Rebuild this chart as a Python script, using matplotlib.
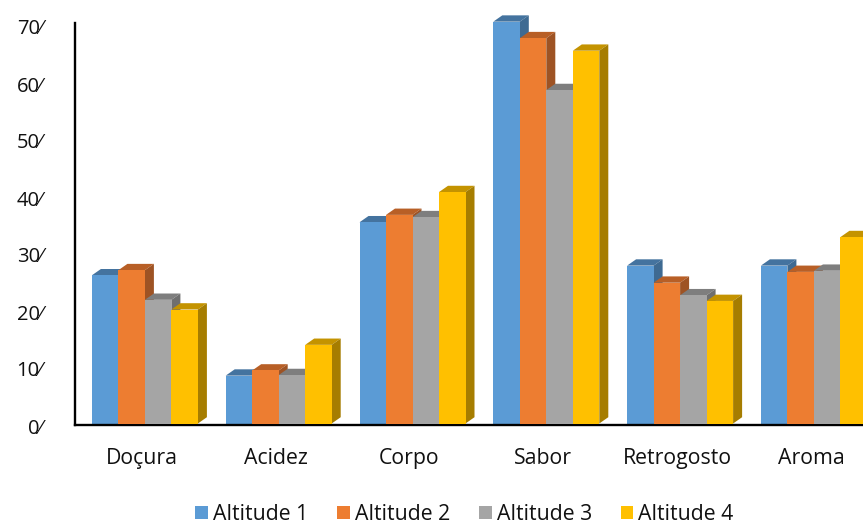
import matplotlib
matplotlib.use("Agg")
import matplotlib.pyplot as plt
from matplotlib.patches import Polygon, Patch
from matplotlib.transforms import ScaledTranslation

plt.rcParams['font.family'] = ['Open Sans', 'DejaVu Sans']

categories = ['Doçura', 'Acidez', 'Corpo', 'Sabor', 'Retrogosto', 'Aroma']
series_names = ['Altitude 1', 'Altitude 2', 'Altitude 3', 'Altitude 4']
altitude_1 = [26.0, 8.4, 35.3, 70.5, 27.7, 27.7]
altitude_2 = [26.9, 9.3, 36.6, 67.6, 24.7, 26.6]
altitude_3 = [21.7, 8.5, 36.2, 58.5, 22.5, 26.8]
altitude_4 = [20.0, 13.8, 40.6, 65.4, 21.5, 32.7]
series = [altitude_1, altitude_2, altitude_3, altitude_4]
y_ticks = list(range(0, 71, 10))

front_colors = ['#5B9BD5', '#ED7D31', '#A5A5A5', '#FFC000']
top_colors = ['#44739F', '#B85F26', '#7E7E7E', '#C49300']
side_colors = ['#3E6A92', '#9E5324', '#6F6F6F', '#A67D00']

W, H = 863, 525
fig = plt.figure(figsize=(W / 100, H / 100), dpi=100)

# plot area in pixels: left spine, right edge of the canvas, baseline, top edge
left_px, right_px, bottom_px, top_px = 75.0, 863.0, 425.3, 0.0
zero_px, px_per_unit = 423.5, 5.7
cat_px = 133.8
ax = fig.add_axes([left_px / W, 1 - bottom_px / H,
                   (right_px - left_px) / W, (bottom_px - top_px) / H])
ax.set_xlim(-0.5, -0.5 + (right_px - left_px) / cat_px)
ax.set_ylim((zero_px - bottom_px) / px_per_unit, zero_px / px_per_unit)

bar_w = 26.5 / cat_px
group_shift = 3.0 / cat_px
depth_x = 9.0 / cat_px
depth_y = 6.3 / px_per_unit

for s, values in enumerate(series):
    for c, v in enumerate(values):
        x0 = c + group_shift + (s - 2) * bar_w
        x1 = x0 + bar_w
        ax.add_patch(Polygon([(x0, v), (x1, v), (x1 + depth_x, v + depth_y),
                              (x0 + depth_x, v + depth_y)],
                             closed=True, fc=top_colors[s], ec='none',
                             clip_on=True, zorder=2 + s))
        ax.add_patch(Polygon([(x1, 0), (x1, v), (x1 + depth_x, v + depth_y),
                              (x1 + depth_x, depth_y)],
                             closed=True, fc=side_colors[s], ec='none',
                             clip_on=True, zorder=2 + s))
        ax.bar(x0, v, width=bar_w, align='edge', color=front_colors[s],
               linewidth=0, zorder=2 + s)

for name in ('top', 'right'):
    ax.spines[name].set_visible(False)
ax.spines['left'].set_linewidth(1.7)
ax.spines['bottom'].set_linewidth(1.7)
ax.spines['left'].set_bounds(ax.get_ylim()[0], (zero_px - 23) / px_per_unit)
ax.set_axisbelow(False)

ax.set_xticks(range(len(categories)), categories)
ax.set_yticks(y_ticks, [f'{t}\u2044' for t in y_ticks])
ax.tick_params(axis='both', length=0, labelcolor='#111111')
ax.tick_params(axis='x', pad=16.5, labelsize=15.3)
ax.tick_params(axis='y', pad=23.5, labelsize=14.5)
for lab in ax.get_yticklabels():
    lab.set_transform(lab.get_transform() + ScaledTranslation(0, -2.5 / 100, fig.dpi_scale_trans))

handles = [Patch(fc=col, ec='none', label=n) for col, n in zip(front_colors, series_names)]
fig.legend(handles=handles, ncol=4, loc='center', bbox_to_anchor=(464.5 / W, 1 - 514.5 / H),
           frameon=False, fontsize=15.3, handlelength=0.6, handleheight=0.6,
           handletextpad=0.23, columnspacing=1.36, labelcolor='#111111')

fig.savefig('out.png', dpi=100, facecolor='white')
